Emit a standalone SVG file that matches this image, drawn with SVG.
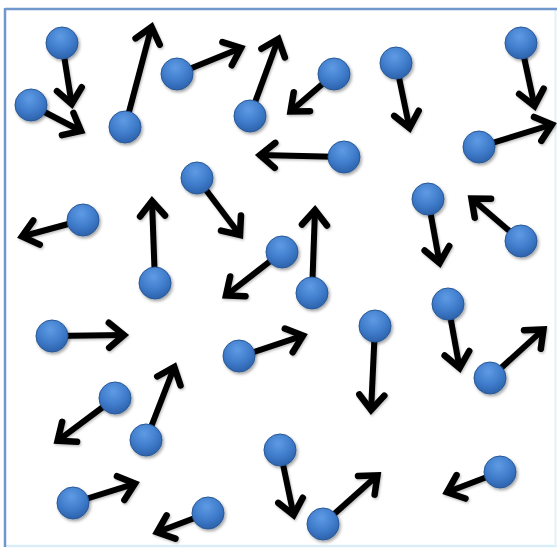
<svg xmlns="http://www.w3.org/2000/svg" width="557" height="550" viewBox="0 0 557 550">
<defs>
<radialGradient id="ballGrad" cx="0.45" cy="0.3" r="0.75">
<stop offset="0" stop-color="#5f9be4"/>
<stop offset="0.55" stop-color="#3f7ccb"/>
<stop offset="1" stop-color="#2a5da6"/>
</radialGradient>
<filter id="shadow" x="-50%" y="-50%" width="200%" height="200%">
<feDropShadow dx="1.5" dy="2" stdDeviation="1.5" flood-color="#000" flood-opacity="0.35"/>
</filter>
<filter id="ashadow" x="-20%" y="-20%" width="140%" height="140%">
<feDropShadow dx="1" dy="1.5" stdDeviation="1" flood-color="#000" flood-opacity="0.25"/>
</filter>
<marker id="head" markerUnits="userSpaceOnUse" viewBox="-22 -16 26 32" refX="0" refY="0" markerWidth="26" markerHeight="32" orient="auto" overflow="visible">
<path d="M-15,-12.5 L0,0 L-15,12.5" fill="none" stroke="#000" stroke-width="6.5" stroke-linejoin="miter" stroke-linecap="round"/>
</marker>
</defs>
<style>
.arrow{stroke:#000;stroke-width:6;fill:none;marker-end:url(#head)}
.ball{fill:url(#ballGrad);stroke:#285896;stroke-width:1;filter:url(#shadow)}
</style>
<rect x="0" y="0" width="557" height="550" fill="#ffffff"/>
<g id="frame">
<line x1="4" y1="546" x2="557" y2="546" stroke="#dbeef8" stroke-width="2.5"/>
<line x1="555.5" y1="8" x2="555.5" y2="547" stroke="#e4f2fa" stroke-width="2"/>
<line x1="5" y1="9" x2="557" y2="9" stroke="#7098cc" stroke-width="2.5"/>
<line x1="5" y1="8" x2="5" y2="547" stroke="#7098cc" stroke-width="2.5"/>
</g>
<g id="connectors" filter="url(#ashadow)">
<line class="arrow" x1="62" y1="43" x2="71.7" y2="104"/>
<line class="arrow" x1="31" y1="105" x2="81" y2="131"/>
<line class="arrow" x1="125" y1="127" x2="151.5" y2="27"/>
<line class="arrow" x1="177" y1="74" x2="241" y2="48"/>
<line class="arrow" x1="250" y1="116" x2="278.3" y2="39"/>
<line class="arrow" x1="197" y1="178" x2="240" y2="235"/>
<line class="arrow" x1="83" y1="220" x2="22" y2="236.5"/>
<line class="arrow" x1="155" y1="283" x2="152" y2="201"/>
<line class="arrow" x1="282" y1="252" x2="226" y2="295.5"/>
<line class="arrow" x1="334" y1="74" x2="290.5" y2="111.5"/>
<line class="arrow" x1="396" y1="63" x2="409.5" y2="128"/>
<line class="arrow" x1="521" y1="43" x2="534.5" y2="106"/>
<line class="arrow" x1="479" y1="147" x2="552" y2="124.5"/>
<line class="arrow" x1="344" y1="157" x2="260" y2="155"/>
<line class="arrow" x1="428" y1="199" x2="439.6" y2="263"/>
<line class="arrow" x1="521" y1="241" x2="471.5" y2="198.5"/>
<line class="arrow" x1="312" y1="293" x2="315" y2="210"/>
<line class="arrow" x1="52" y1="336" x2="124" y2="335"/>
<line class="arrow" x1="115" y1="398" x2="57.6" y2="440.8"/>
<line class="arrow" x1="146" y1="440" x2="174.3" y2="367"/>
<line class="arrow" x1="239" y1="357" x2="303" y2="335.7"/>
<line class="arrow" x1="73" y1="503" x2="135" y2="483.6"/>
<line class="arrow" x1="208" y1="513" x2="157" y2="532.3"/>
<line class="arrow" x1="375" y1="326" x2="371.1" y2="410"/>
<line class="arrow" x1="448" y1="304" x2="459.6" y2="368"/>
<line class="arrow" x1="490" y1="378" x2="543.5" y2="329.4"/>
<line class="arrow" x1="280" y1="450" x2="293.6" y2="515"/>
<line class="arrow" x1="323" y1="524" x2="377.5" y2="475.3"/>
<line class="arrow" x1="500" y1="472" x2="447" y2="492.2"/>
</g>
<g id="p1"><circle class="ball" cx="62" cy="43" r="16"/></g>
<g id="p2"><circle class="ball" cx="31" cy="105" r="16"/></g>
<g id="p3"><circle class="ball" cx="125" cy="127" r="16"/></g>
<g id="p4"><circle class="ball" cx="177" cy="74" r="16"/></g>
<g id="p5"><circle class="ball" cx="250" cy="116" r="16"/></g>
<g id="p6"><circle class="ball" cx="197" cy="178" r="16"/></g>
<g id="p7"><circle class="ball" cx="83" cy="220" r="16"/></g>
<g id="p8"><circle class="ball" cx="155" cy="283" r="16"/></g>
<g id="p9"><circle class="ball" cx="282" cy="252" r="16"/></g>
<g id="p10"><circle class="ball" cx="334" cy="74" r="16"/></g>
<g id="p11"><circle class="ball" cx="396" cy="63" r="16"/></g>
<g id="p12"><circle class="ball" cx="521" cy="43" r="16"/></g>
<g id="p13"><circle class="ball" cx="479" cy="147" r="16"/></g>
<g id="p14"><circle class="ball" cx="344" cy="157" r="16"/></g>
<g id="p15"><circle class="ball" cx="428" cy="199" r="16"/></g>
<g id="p16"><circle class="ball" cx="521" cy="241" r="16"/></g>
<g id="p17"><circle class="ball" cx="312" cy="293" r="16"/></g>
<g id="p18"><circle class="ball" cx="52" cy="336" r="16"/></g>
<g id="p19"><circle class="ball" cx="115" cy="398" r="16"/></g>
<g id="p20"><circle class="ball" cx="146" cy="440" r="16"/></g>
<g id="p21"><circle class="ball" cx="239" cy="356" r="16"/></g>
<g id="p22"><circle class="ball" cx="73" cy="503" r="16"/></g>
<g id="p23"><circle class="ball" cx="208" cy="513" r="16"/></g>
<g id="p24"><circle class="ball" cx="375" cy="326" r="16"/></g>
<g id="p25"><circle class="ball" cx="448" cy="304" r="16"/></g>
<g id="p26"><circle class="ball" cx="490" cy="378" r="16"/></g>
<g id="p27"><circle class="ball" cx="280" cy="450" r="16"/></g>
<g id="p28"><circle class="ball" cx="323" cy="524" r="16"/></g>
<g id="p29"><circle class="ball" cx="500" cy="472" r="16"/></g>
</svg>
